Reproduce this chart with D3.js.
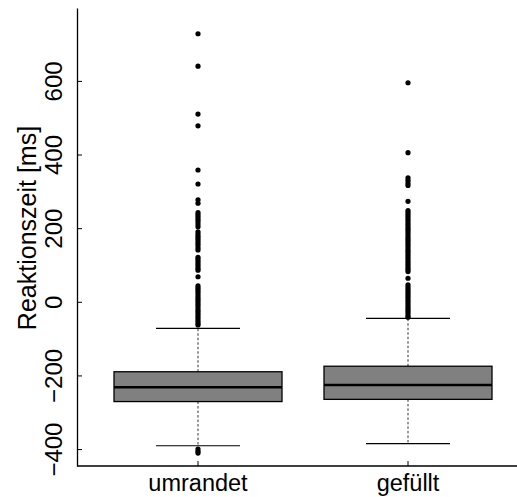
<!DOCTYPE html>
<html>
<head>
<meta charset="utf-8">
<script src="https://cdn.jsdelivr.net/npm/d3@7"></script>
<style>
  html, body { margin: 0; padding: 0; background: #fff; }
  svg { display: block; }
  text { font-family: "Liberation Sans", Arial, Helvetica, sans-serif; fill: #000; }
</style>
</head>
<body>
<svg id="chart" width="517" height="497"></svg>
<script>
// ---- data ----
const categories = ["umrandet", "gefüllt"];
const lowerWhisker = [-391, -385];
const q1 = [-271, -265];
const median = [-232, -226];
const q3 = [-190, -175];
const upperWhisker = [-72, -45];
const outliersUmrandet = [728, 640, 510, 478, 358, 320, 277, 268,
  242, 236, 230, 224, 218, 211, 204,
  190, 184, 178, 172, 166, 160, 154, 147, 141,
  121, 115, 109, 103, 97, 91, 86,
  68,
  43, 37, 31, 25, 19, 13, 7, 1, -5, -11, -17, -23, -29, -35, -41, -47, -53, -59, -63,
  -400, -406, -411];
const outliersGefuellt = [595, 405, 337, 330, 323, 316, 273,
  248, 242, 236, 230, 224, 218, 212, 206, 200, 194, 188, 182, 176, 170, 164, 158, 152,
  146, 140, 134, 128, 122, 116, 110, 104, 98, 92, 87, 82,
  64,
  46, 40, 34, 28, 22, 16, 10, 4, -2, -8, -14, -20, -26, -32, -38, -42];
const outliers = [outliersUmrandet, outliersGefuellt];
const yTicks = [-400, -200, 0, 200, 400, 600];
const yLabel = "Reaktionszeit [ms]";

// ---- layout ----
const W = 517, H = 497;
const axisX = 77, axisBottom = 466, axisTop = 8;
const svg = d3.select("#chart");

const y = d3.scaleLinear().domain([-446, 798]).range([axisBottom, axisTop]);
const x = d3.scaleBand().domain(categories).range([93, 513]).padding(0);
const bw = x.bandwidth();
const boxW = bw * 0.8, capW = bw * 0.4;

// y axis
const yAxis = d3.axisLeft(y).tickValues(yTicks).tickSizeInner(-5).tickSizeOuter(0)
  .tickFormat(d3.format("d"));
const gy = svg.append("g").attr("transform", `translate(${axisX},0)`).call(yAxis);
gy.select(".domain").attr("stroke", "#000").attr("stroke-width", 1.3);
gy.selectAll(".tick line").attr("stroke", "#000").attr("stroke-width", 1);
gy.selectAll(".tick text")
  .attr("x", 0).attr("dy", 0)
  .attr("text-anchor", "middle")
  .attr("transform", "translate(-15,0) rotate(-90)")
  .style("font-size", "24px")
  .style("font-family", '"Liberation Sans", Arial, sans-serif')
  .attr("fill", "#000");

// y label
svg.append("text")
  .attr("transform", `translate(36,228) rotate(-90)`)
  .attr("text-anchor", "middle")
  .style("font-size", "25px")
  .text(yLabel);

// x axis line
svg.append("line")
  .attr("x1", axisX).attr("x2", W)
  .attr("y1", axisBottom).attr("y2", axisBottom)
  .attr("stroke", "#000").attr("stroke-width", 1.3);

const g = svg.append("g");
categories.forEach((c, i) => {
  const cx = x(c) + bw / 2;
  // x tick (inward)
  g.append("line").attr("x1", cx).attr("x2", cx)
    .attr("y1", axisBottom).attr("y2", axisBottom - 5)
    .attr("stroke", "#000").attr("stroke-width", 1);
  // category label
  g.append("text").attr("x", cx).attr("y", 491)
    .attr("text-anchor", "middle").style("font-size", "23.5px").text(c);
  // whiskers
  g.append("line").attr("x1", cx).attr("x2", cx)
    .attr("y1", y(q3[i])).attr("y2", y(upperWhisker[i]))
    .attr("stroke", "#333").attr("stroke-width", 1).attr("stroke-dasharray", "2.5,2");
  g.append("line").attr("x1", cx).attr("x2", cx)
    .attr("y1", y(q1[i])).attr("y2", y(lowerWhisker[i]))
    .attr("stroke", "#333").attr("stroke-width", 1).attr("stroke-dasharray", "2.5,2");
  // caps
  [upperWhisker[i], lowerWhisker[i]].forEach(v => {
    g.append("line").attr("x1", cx - capW / 2).attr("x2", cx + capW / 2)
      .attr("y1", y(v)).attr("y2", y(v))
      .attr("stroke", "#000").attr("stroke-width", 1.2);
  });
  // box
  g.append("rect").attr("x", cx - boxW / 2).attr("width", boxW)
    .attr("y", y(q3[i])).attr("height", y(q1[i]) - y(q3[i]))
    .attr("fill", "#808080").attr("stroke", "#000").attr("stroke-width", 1.3);
  // median
  g.append("line").attr("x1", cx - boxW / 2).attr("x2", cx + boxW / 2)
    .attr("y1", y(median[i])).attr("y2", y(median[i]))
    .attr("stroke", "#000").attr("stroke-width", 2.5);
  // outliers
  g.selectAll(null).data(outliers[i]).enter().append("circle")
    .attr("cx", cx).attr("cy", d => y(d)).attr("r", 2.6).attr("fill", "#000");
});
</script>
</body>
</html>
